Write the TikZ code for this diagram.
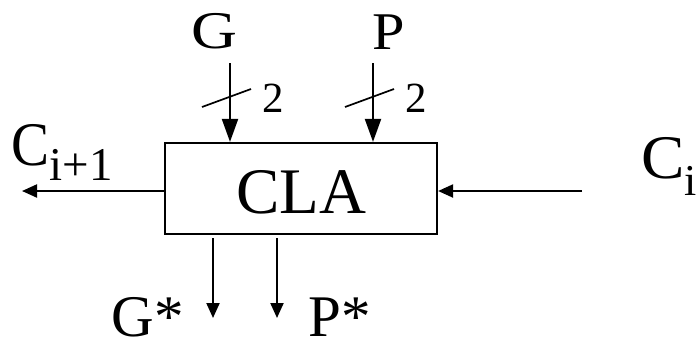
\documentclass[tikz,border=0pt]{standalone}
\usepackage{fontspec}
\usepackage{graphicx}
\setmainfont{Liberation Serif}
\usetikzlibrary{arrows.meta}
% font sizes used by the labels
\newcommand{\fs}[1]{\fontsize{#1}{#1}\selectfont}
\tikzset{
  wire/.style={line width=2.1pt},
  bigtip/.style={wire,-{Triangle[length=23pt,width=16pt]}},
  tip/.style={wire,-{Triangle[length=15pt,width=13pt]}},
  lbl/.style={inner sep=0pt,anchor=base,text depth=0pt},
  buswidth/.style={line width=1.7pt},
}
\begin{document}
\begin{tikzpicture}[x=1pt,y=-1pt]
  \useasboundingbox (0,0) rectangle (696,343);
  % the carry-lookahead block
  \node[draw,line width=2.2pt,minimum width=272pt,minimum height=91pt,inner sep=0pt,
        text height=49pt,text depth=0pt]
    (cla) at (301,188.5) {\fs{65}CLA};

  % group generate / propagate inputs
  \node[lbl] (G) at (214,48) {\scalebox{1.2}[1]{\fs{53}G}};
  \node[lbl] (P) at (389,49) {\scalebox{1.1}[1]{\fs{53}P}};
  \coordinate (gin) at (230,63);
  \coordinate (pin) at (373,63);
  \draw[bigtip] (gin) -- (gin |- cla.north);
  \draw[bigtip] (pin) -- (pin |- cla.north);

  % bus-width marks
  \coordinate (gs1) at (202,107); \coordinate (gs2) at (251,89);
  \coordinate (ps1) at (345,107); \coordinate (ps2) at (394,89);
  \draw[buswidth] (gs1) -- (gs2);
  \draw[buswidth] (ps1) -- (ps2);
  \node[lbl] (gw) at (273,112) {\fs{43}2};
  \node[lbl] (pw) at (416,112) {\fs{43}2};

  % carries
  \coordinate (cout) at (22,191);
  \coordinate (cinsrc) at (582,191);
  \draw[tip] (cla.west |- cout) -- (cout);
  \draw[tip] (cinsrc) -- (cla.east |- cinsrc);
  \node[lbl,anchor=base west] (Cout) at (11.5,165)
    {\scalebox{0.92}[1]{\fs{62}C}\raisebox{-15pt}{\fs{47}i+1}};
  \node[lbl,anchor=base west] (Cin) at (641,178)
    {\scalebox{1.05}[1]{\fs{62}C}\raisebox{-17pt}{\fs{44}i}};

  % block generate / propagate outputs
  \coordinate (gos) at (213,238); \coordinate (goe) at (213,318);
  \coordinate (pos) at (277,238); \coordinate (poe) at (277,318);
  \draw[tip] (gos) -- (goe);
  \draw[tip] (pos) -- (poe);
  \node[lbl] (Gs) at (147.5,336) {\fs{59}G*};
  \node[lbl] (Ps) at (340,336) {\fs{59}P*};
\end{tikzpicture}
\end{document}
